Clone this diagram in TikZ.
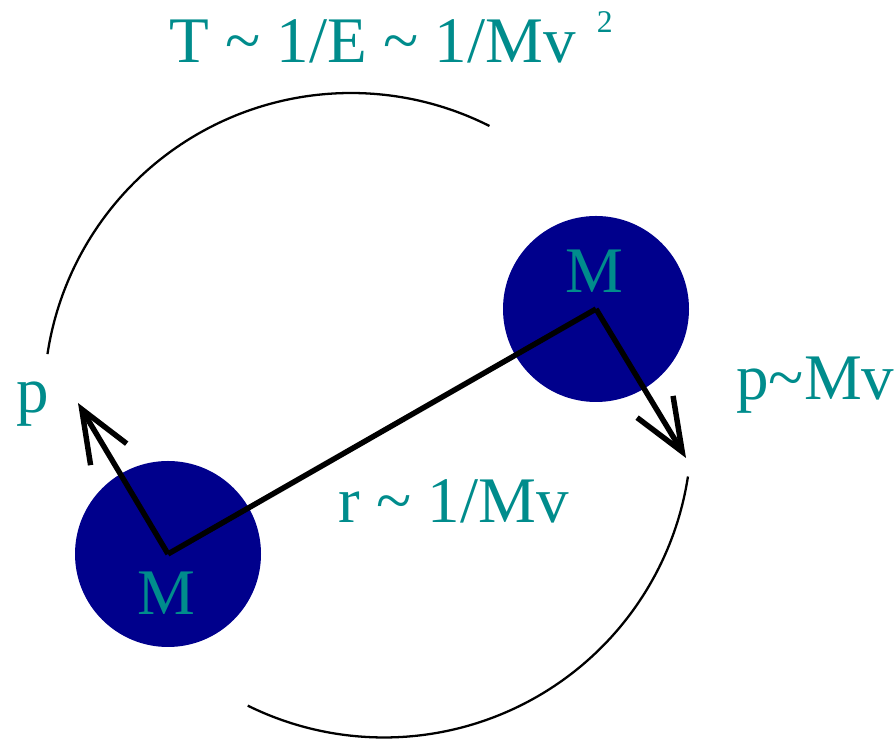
\documentclass[tikz,border=0pt]{standalone}
\usepackage{fontspec}
\setmainfont{Liberation Serif}
\usetikzlibrary{arrows.meta}
\definecolor{massBlue}{RGB}{0, 0, 140}
\definecolor{labelTeal}{RGB}{0, 140, 140}

\begin{document}
\begin{tikzpicture}[font=\fontsize{37}{42}\selectfont, every node/.style={text=labelTeal, inner sep=0pt}, mass/.style={circle, fill=massBlue, minimum size=3.72cm}, momentum/.style={line width=3.1pt, -{Straight Barb[length=10.5mm, width=8.4mm]}}, orbit/.style={line width=1.3pt}]
    \useasboundingbox (0,0) rectangle (17.9,14.82);

    \node[mass] (massL) at (3.36,3.74) {};
    \node[mass] (massR) at (11.92,8.64) {};
    \node[anchor=base] (labelL) at (3.32,2.52) {M};
    \node[anchor=base] (labelR) at (11.88,8.96) {M};

    \coordinate (tipL) at (1.56,6.76);
    \coordinate (tipR) at (13.72,5.66);
    \coordinate (orbitTop) at (7.02,6.82);
    \coordinate (orbitBot) at (7.68,6.22);

    \node[anchor=base west] (period) at (3.38,13.56) {T \textasciitilde{} 1/E \textasciitilde{} 1/Mv \hspace{0.1cm}\raisebox{0.6cm}{\fontsize{18}{20}\selectfont 2}};
    \node[anchor=base west] (momL) at (0.32,6.56) {p};
    \node[anchor=base west] (momR) at (14.72,6.82) {p\textasciitilde{}Mv};
    \node[anchor=base west] (dist) at (6.76,4.36) {r \textasciitilde{} 1/Mv};

    \draw[line width=3.1pt] (massL.center) -- (massR.center);
    \draw[momentum] (massL.center) -- (tipL);
    \draw[momentum] (massR.center) -- (tipR);

    \draw[orbit] ([shift={(171.4:6.14)}]orbitTop) arc[start angle=171.4, end angle=63.2, radius=6.14];
    \draw[orbit] ([shift={(-8.7:6.15)}]orbitBot) arc[start angle=-8.7, end angle=-116.3, radius=6.15];
\end{tikzpicture}
\end{document}
